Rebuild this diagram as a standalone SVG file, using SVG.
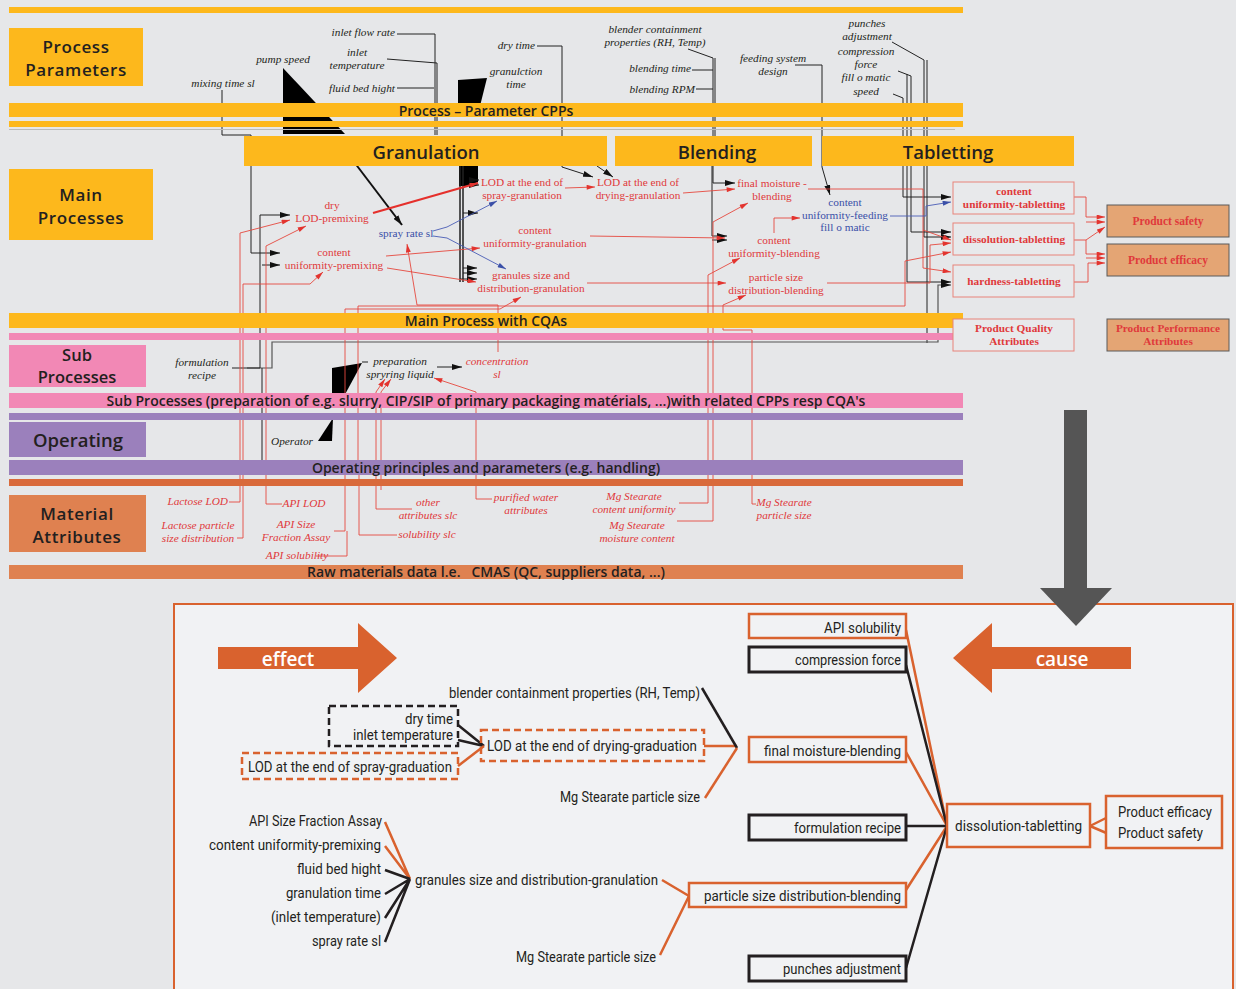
<svg xmlns="http://www.w3.org/2000/svg" width="1236" height="989" viewBox="0 0 1236 989">
<style>
.yb{fill:#fdb81c}.pk{fill:#f288b5}.pu{fill:#9b80bc}.od{fill:#d96a3b}.ma{fill:#df8150}
.hd{font-family:"Open Sans","Liberation Sans",sans-serif;font-weight:600;fill:#231f20;text-anchor:middle}
.it{font-family:"Liberation Serif",serif;font-style:italic;font-size:11.3px;fill:#231f20;text-anchor:middle}
.ri{font-family:"Liberation Serif",serif;font-style:italic;font-size:11.3px;fill:#e0393b;text-anchor:middle}
.rt{font-family:"Liberation Serif",serif;font-size:11.3px;fill:#e0393b;text-anchor:middle}
.bt{font-family:"Liberation Serif",serif;font-size:11.3px;fill:#3b50a8;text-anchor:middle}
.pq{font-family:"Liberation Serif",serif;font-weight:bold;font-size:11.3px;fill:#e0393b;text-anchor:middle}
.bk{fill:none;stroke:#222;stroke-width:1}
.gy{fill:none;stroke:#555;stroke-width:1.2}
.rd{fill:none;stroke:#e5483e;stroke-width:0.9}
.bl{fill:none;stroke:#4a5cb5;stroke-width:0.9}
.qb{fill:#e8e9eb;stroke:#e8837a;stroke-width:1}
.pb{fill:#e4a574;stroke:#5a5a5a;stroke-width:1}
.ct{font-family:Roboto,"Liberation Sans",sans-serif;font-size:14px;fill:#231f20}
.ob{fill:#f1f2f4;stroke:#d9622e;stroke-width:2.5}
.kb{fill:#f1f2f4;stroke:#231f20;stroke-width:3}
.dk{fill:none;stroke:#231f20;stroke-width:2.5;stroke-dasharray:7,4}
.do{fill:none;stroke:#d9622e;stroke-width:2.5;stroke-dasharray:7,4}
.lo{fill:none;stroke:#d9622e;stroke-width:2.5}
.lk{fill:none;stroke:#231f20;stroke-width:2.5}
.bn{font-size:14px}
.cl{font-size:17px;letter-spacing:0.6px}
</style>
<defs>
<marker id="ab" viewBox="0 0 10 6" refX="10" refY="3" markerWidth="10" markerHeight="6" markerUnits="userSpaceOnUse" orient="auto"><path d="M0,0 L10,3 L0,6 z" fill="#111"/></marker>
<marker id="ar" viewBox="0 0 10 6" refX="10" refY="3" markerWidth="9" markerHeight="5" markerUnits="userSpaceOnUse" orient="auto"><path d="M0,0 L10,3 L0,6 z" fill="#e3342f"/></marker>
<marker id="au" viewBox="0 0 10 6" refX="10" refY="3" markerWidth="9" markerHeight="5" markerUnits="userSpaceOnUse" orient="auto"><path d="M0,0 L10,3 L0,6 z" fill="#3b50a8"/></marker>
</defs>
<rect x="0" y="0" width="1236" height="989" fill="#e6e7e9"/>

<g id="connectors">
<path class="bk" d="M222,90 V135 H251 V253 H280" marker-end="url(#ab)"/>
<path class="bk" d="M397,34 H435 V135"/>
<path class="bk" d="M387,59 L437,63 V135"/>
<path class="bk" d="M397,88 H434"/>
<path class="bk" d="M537,46 H562 V167 L593,177" marker-end="url(#ab)"/>
<path class="bk" d="M597,166 L613,177" marker-end="url(#ab)"/>
<path class="bk" d="M688,49 L713,58 V183 H735" marker-end="url(#ab)"/>
<path class="bk" d="M692,70 H713"/>
<path class="bk" d="M696,89 H713"/>
<path class="bk" d="M715,58 V136"/>
<path class="bk" d="M712,166 V236 H727" marker-end="url(#ab)"/>
<path class="bk" d="M712,240 H727" marker-end="url(#ab)"/>
<path class="bk" d="M795,65 H822 V167 L830,195" marker-end="url(#ab)"/>
<path class="bk" d="M892,42 L924,60 V237 H951" marker-end="url(#ab)"/>
<path class="bk" d="M927,60 V343"/>
<path class="bk" d="M898,71 L911,76 V232 H951" marker-end="url(#ab)"/>
<path class="bk" d="M907,74 V282 H951" marker-end="url(#ab)"/>
<path class="bk" d="M893,94 L903,98 V197 H951" marker-end="url(#ab)"/>
<path class="gy" d="M247,368 H272 V342 H938 V285 H951" marker-end="url(#ab)"/>
<path class="bk" d="M232,368 H260 V215 H290" marker-end="url(#ab)"/>
<path class="bk" d="M262,265 H280" marker-end="url(#ab)"/>
<path class="bk" d="M262,368 V460"/>
<polygon points="458,80 487,78 479,110 458,110" fill="#000"/>
<polygon points="459,166 478,166 478,182 470,186 459,186" fill="#000"/>
<path class="bk" d="M470,180 H479" marker-end="url(#ab)"/>
<path class="bk" d="M470,185 H479" marker-end="url(#ab)"/>
<path d="M460,166 V282 M463,166 V282" fill="none" stroke="#222" stroke-width="1.5"/>
<path class="bk" d="M463,213 H478" marker-end="url(#ab)"/>
<path class="bk" d="M463,268 H477" marker-end="url(#ab)"/>
<path class="bk" d="M463,273 H477" marker-end="url(#ab)"/>
<path class="bk" d="M460,279 H477" marker-end="url(#ab)"/>
<polygon points="283,68 330,118 345,134 283,134" fill="#000"/>
<path d="M345,150 L402,225" fill="none" stroke="#111" stroke-width="2" marker-end="url(#ab)"/>
<polygon points="332,368 362,363 342,400 332,400" fill="#000"/>
<polygon points="333,418 318,441 332,441" fill="#000"/>
<path class="bk" d="M362,362 H368"/>
<path class="bk" d="M437,367 H462" marker-end="url(#ab)"/>

<path d="M373,213 L478,183" fill="none" stroke="#e5302c" stroke-width="2.2" marker-end="url(#ar)"/>
<path class="rd" d="M565,188 L595,187" marker-end="url(#ar)"/>
<path class="rd" d="M683,193 L735,189" marker-end="url(#ar)"/>
<path class="rd" d="M386,256 L480,248" marker-end="url(#ar)"/>
<path class="rd" d="M387,268 L476,282" marker-end="url(#ar)"/>
<path class="rd" d="M590,236 L725,238" marker-end="url(#ar)"/>
<path class="rd" d="M587,283 L726,283" marker-end="url(#ar)"/>
<path class="rd" d="M774,233 V218 H800" marker-end="url(#ar)"/>
<path class="rd" d="M808,189 H923 V268 L951,272" marker-end="url(#ar)"/>
<path class="rd" d="M923,230 L951,240" marker-end="url(#ar)"/>
<path class="rd" d="M827,283 H930 V245 L951,243" marker-end="url(#ar)"/>
<path class="rd" d="M358,460 V306 H905 V261 L951,252" marker-end="url(#ar)"/>
<path class="rd" d="M229,502 H240 V233 L290,220" marker-end="url(#ar)"/>
<path class="rd" d="M237,538 H243 V284 H310 L323,272" marker-end="url(#ar)"/>
<path class="rd" d="M282,504 H266 V246 L306,226" marker-end="url(#ar)"/>
<path class="rd" d="M334,531 H345 V309 H500 L521,297" marker-end="url(#ar)"/>
<path class="rd" d="M316,556 H347 V531"/>
<path class="rd" d="M397,535 H359 V460"/>
<path class="rd" d="M412,509 H376 V392 L385,379" marker-end="url(#ar)"/>
<path class="rd" d="M381,490 V392 L391,379" marker-end="url(#ar)"/>
<path class="rd" d="M492,499 H476 V392 L434,378" marker-end="url(#ar)"/>
<path class="rd" d="M498,352 V305 H417 L407,244" marker-end="url(#ar)"/>
<path class="rd" d="M679,503 H708 V275 L740,258" marker-end="url(#ar)"/>
<path class="rd" d="M677,521 H713 V222 L748,203" marker-end="url(#ar)"/>
<path class="rd" d="M756,504 H752 V330 H723 V305 L746,295" marker-end="url(#ar)"/>
<path class="rd" d="M1074,197 H1086 V217 H1105" marker-end="url(#ar)"/>
<path class="rd" d="M1086,222 H1105" marker-end="url(#ar)"/>
<path class="rd" d="M1074,240 H1086 L1105,227" marker-end="url(#ar)"/>
<path class="rd" d="M1086,240 V254 H1105" marker-end="url(#ar)"/>
<path class="rd" d="M1086,258 H1105" marker-end="url(#ar)"/>
<path class="rd" d="M1074,282 H1088 V263 H1105" marker-end="url(#ar)"/>
<path class="bl" d="M433,231 L447,227 L497,201" marker-end="url(#au)"/>
<path class="bl" d="M433,236 L447,238 L506,269" marker-end="url(#au)"/>
<path class="bl" d="M890,216 H926 V206 L951,202" marker-end="url(#au)"/>
</g>

<g id="bands">
<rect class="yb" x="9" y="7" width="954" height="6"/>
<rect class="yb" x="9" y="103" width="954" height="14"/>
<rect class="yb" x="9" y="121" width="954" height="6"/>
<line x1="9" y1="129.5" x2="955" y2="129.5" stroke="#bbb" stroke-width="1"/>
<text class="hd bn" x="486" y="115.5">Process – Parameter CPPs</text>
<rect class="yb" x="9" y="313" width="954" height="15"/>
<text class="hd bn" x="486" y="325.5">Main Process with CQAs</text>
<rect class="pk" x="9" y="333" width="954" height="7"/>
<rect class="pk" x="9" y="393" width="954" height="15"/>
<text class="hd bn" x="486" y="405.5">Sub Processes (preparation of e.g. slurry, CIP/SIP of primary packaging matérials, ...)with related CPPs resp CQA's</text>
<rect class="pu" x="9" y="413" width="954" height="7"/>
<rect class="pu" x="9" y="460" width="954" height="15"/>
<text class="hd bn" x="486" y="472.5">Operating principles and parameters (e.g. handling)</text>
<rect class="od" x="9" y="479" width="954" height="7"/>
<rect class="ma" x="9" y="565" width="954" height="14"/>
<text class="hd bn" x="486" y="577" xml:space="preserve">Raw materials data l.e.   CMAS (QC, suppliers data, ...)</text>
</g>

<g id="category-labels">
<rect class="yb" x="9" y="28" width="134" height="58"/>
<text class="hd cl" x="76" y="53">Process</text>
<text class="hd cl" x="76" y="76">Parameters</text>
<rect class="yb" x="9" y="169" width="144" height="71"/>
<text class="hd cl" x="81" y="201">Main</text>
<text class="hd cl" x="81" y="224">Processes</text>
<rect class="pk" x="9" y="345" width="137" height="42"/>
<text class="hd" x="77" y="361" style="font-size:16.5px">Sub</text>
<text class="hd" x="77" y="383" style="font-size:16.5px">Processes</text>
<rect class="pu" x="9" y="422" width="137" height="35"/>
<text class="hd" x="78" y="447" style="font-size:18.5px">Operating</text>
<rect class="ma" x="9" y="495" width="137" height="57"/>
<text class="hd cl" x="77" y="520">Material</text>
<text class="hd cl" x="77" y="543">Attributes</text>
</g>

<g id="stage-headers">
<rect class="yb" x="244" y="136" width="363" height="30"/>
<text class="hd" x="426" y="159" font-size="18.5">Granulation</text>
<rect class="yb" x="615" y="136" width="197" height="30"/>
<text class="hd" x="717" y="159" font-size="18.5">Blending</text>
<rect class="yb" x="822" y="136" width="252" height="30"/>
<text class="hd" x="948" y="159" font-size="18.5">Tabletting</text>
</g>

<g id="process-parameters">
<text class="it" x="395" y="36" style="text-anchor:end">inlet flow rate</text>
<text class="it" x="357" y="56">inlet</text>
<text class="it" x="357" y="69">temperature</text>
<text class="it" x="283" y="63">pump speed</text>
<text class="it" x="395" y="92" style="text-anchor:end">fluid bed hight</text>
<text class="it" x="223" y="87">mixing time sl</text>
<text class="it" x="535" y="49" style="text-anchor:end">dry time</text>
<text class="it" x="516" y="75">granulction</text>
<text class="it" x="516" y="88">time</text>
<text class="it" x="655" y="33">blender containment</text>
<text class="it" x="655" y="46">properties (RH, Temp)</text>
<text class="it" x="691" y="72" style="text-anchor:end">blending time</text>
<text class="it" x="695" y="93" style="text-anchor:end">blending RPM</text>
<text class="it" x="773" y="62">feeding system</text>
<text class="it" x="773" y="75">design</text>
<text class="it" x="867" y="27">punches</text>
<text class="it" x="867" y="40">adjustment</text>
<text class="it" x="866" y="55">compression</text>
<text class="it" x="866" y="68">force</text>
<text class="it" x="866" y="81">fill o matic</text>
<text class="it" x="866" y="95">speed</text>
</g>

<g id="cqa-nodes">
<text class="rt" x="332" y="209">dry</text>
<text class="rt" x="332" y="222">LOD-premixing</text>
<text class="rt" x="334" y="256">content</text>
<text class="rt" x="334" y="269">uniformity-premixing</text>
<text class="bt" x="406" y="237">spray rate sl</text>
<text class="rt" x="522" y="186">LOD at the end of</text>
<text class="rt" x="522" y="199">spray-granulation</text>
<text class="rt" x="638" y="186">LOD at the end of</text>
<text class="rt" x="638" y="199">drying-granulation</text>
<text class="rt" x="535" y="234">content</text>
<text class="rt" x="535" y="247">uniformity-granulation</text>
<text class="rt" x="531" y="279">granules size and</text>
<text class="rt" x="531" y="292">distribution-granulation</text>
<text class="rt" x="772" y="187">final moisture -</text>
<text class="rt" x="772" y="200">blending</text>
<text class="bt" x="845" y="206">content</text>
<text class="bt" x="845" y="219">uniformity-feeding</text>
<text class="bt" x="845" y="231">fill o matic</text>
<text class="rt" x="774" y="244">content</text>
<text class="rt" x="774" y="257">uniformity-blending</text>
<text class="rt" x="776" y="281">particle size</text>
<text class="rt" x="776" y="294">distribution-blending</text>
</g>

<g id="sub-processes">
<text class="it" x="202" y="366">formulation</text>
<text class="it" x="202" y="379">recipe</text>
<text class="it" x="400" y="365">preparation</text>
<text class="it" x="400" y="378">spryring liquid</text>
<text class="ri" x="497" y="365">concentration</text>
<text class="ri" x="497" y="378">sl</text>
<text class="it" x="292" y="445">Operator</text>
</g>

<g id="material-attributes">
<text class="ri" x="228" y="505" style="text-anchor:end">Lactose LOD</text>
<text class="ri" x="198" y="529">Lactose particle</text>
<text class="ri" x="198" y="542">size distribution</text>
<text class="ri" x="304" y="507">API LOD</text>
<text class="ri" x="296" y="528">API Size</text>
<text class="ri" x="296" y="541">Fraction Assay</text>
<text class="ri" x="297" y="559">API solubility</text>
<text class="ri" x="428" y="506">other</text>
<text class="ri" x="428" y="519">attributes slc</text>
<text class="ri" x="427" y="538">solubility slc</text>
<text class="ri" x="526" y="501">purified water</text>
<text class="ri" x="526" y="514">attributes</text>
<text class="ri" x="634" y="500">Mg Stearate</text>
<text class="ri" x="634" y="513">content uniformity</text>
<text class="ri" x="637" y="529">Mg Stearate</text>
<text class="ri" x="637" y="542">moisture content</text>
<text class="ri" x="784" y="506">Mg Stearate</text>
<text class="ri" x="784" y="519">particle size</text>
</g>

<g id="product-quality">
<rect class="qb" x="953" y="182" width="121" height="32"/>
<text class="pq" x="1014" y="195">content</text>
<text class="pq" x="1014" y="208">uniformity-tabletting</text>
<rect class="qb" x="953" y="223" width="121" height="32"/>
<text class="pq" x="1014" y="243">dissolution-tabletting</text>
<rect class="qb" x="953" y="265" width="121" height="32"/>
<text class="pq" x="1014" y="285">hardness-tabletting</text>
<rect class="qb" x="953" y="319" width="121" height="32"/>
<text class="pq" x="1014" y="332">Product Quality</text>
<text class="pq" x="1014" y="345">Attributes</text>
</g>

<g id="product-performance">
<rect class="pb" x="1107" y="205" width="122" height="32"/>
<text class="pq" x="1168" y="225" style="font-size:11.5px">Product safety</text>
<rect class="pb" x="1107" y="244" width="122" height="32"/>
<text class="pq" x="1168" y="264" style="font-size:11.5px">Product efficacy</text>
<rect class="pb" x="1107" y="319" width="122" height="32"/>
<text class="pq" x="1168" y="332">Product Performance</text>
<text class="pq" x="1168" y="345">Attributes</text>
</g>

<g id="cause-effect-panel">
<rect x="174" y="604" width="1059" height="390" fill="#f1f2f4" stroke="#d9622e" stroke-width="2"/>
</g>

<g id="big-arrow">
<rect x="1064" y="410" width="23" height="180" fill="#555"/>
<polygon points="1040,588 1112,588 1076,626" fill="#555"/>
</g>

<g id="effect-arrow">
<polygon points="218,647 358,647 358,623 397,658 358,693 358,669 218,669" fill="#d9622e"/>
<text class="hd" x="288" y="665.5" font-size="19" style="fill:#fff">effect</text>
</g>
<g id="cause-arrow">
<polygon points="1131,647 992,647 992,623 953,658 992,693 992,669 1131,669" fill="#d9622e"/>
<text class="hd" x="1062" y="665.5" font-size="19" style="fill:#fff">cause</text>
</g>

<g id="panel-connectors">
<path class="lk" d="M458,725 L484,746 M458,740 L484,746"/>
<path class="lo" d="M458,766 L484,746"/>
<path class="lo" d="M704,746 H737"/>
<path class="lk" d="M702,688 L737,748"/>
<path class="lo" d="M705,798 L737,748"/>
<path class="lo" d="M385,822 L410,879 M385,846 L410,879"/>
<path class="lk" d="M385,870 L410,879 M385,894 L410,879 M385,918 L410,879 M385,942 L410,879"/>
<path class="lo" d="M662,880 L689,896 M660,955 L689,896"/>
<path class="lo" d="M906,630 L947,826 M906,752 L947,826 M906,890 L947,826"/>
<path class="lk" d="M906,665 L947,826 M906,826 L947,826 M906,968 L947,826"/>
<path class="lo" d="M1090,826 L1118,812 M1090,826 L1118,838"/>
</g>

<g id="panel-left-nodes">
<rect class="dk" x="329" y="706" width="129" height="40"/>
<text class="ct" x="453" y="724" text-anchor="end" textLength="48" lengthAdjust="spacingAndGlyphs">dry time</text>
<text class="ct" x="453" y="740" text-anchor="end" textLength="100" lengthAdjust="spacingAndGlyphs">inlet temperature</text>
<rect class="do" x="242" y="753" width="216" height="26"/>
<text class="ct" x="248" y="772" textLength="204" lengthAdjust="spacingAndGlyphs">LOD at the end of spray-graduation</text>
<rect class="do" x="481" y="730" width="223" height="31"/>
<text class="ct" x="487" y="751" textLength="210" lengthAdjust="spacingAndGlyphs">LOD at the end of drying-graduation</text>
<text class="ct" x="449" y="698" textLength="251" lengthAdjust="spacingAndGlyphs">blender containment properties (RH, Temp)</text>
<text class="ct" x="560" y="802" textLength="140" lengthAdjust="spacingAndGlyphs">Mg Stearate particle size</text>
<text class="ct" x="249" y="826" textLength="133" lengthAdjust="spacingAndGlyphs">API Size Fraction Assay</text>
<text class="ct" x="209" y="850" textLength="172" lengthAdjust="spacingAndGlyphs">content uniformity-premixing</text>
<text class="ct" x="297" y="874" textLength="84" lengthAdjust="spacingAndGlyphs">fluid bed hight</text>
<text class="ct" x="286" y="898" textLength="95" lengthAdjust="spacingAndGlyphs">granulation time</text>
<text class="ct" x="271" y="922" textLength="110" lengthAdjust="spacingAndGlyphs">(inlet temperature)</text>
<text class="ct" x="312" y="946" textLength="69" lengthAdjust="spacingAndGlyphs">spray rate sl</text>
<text class="ct" x="415" y="885" textLength="243" lengthAdjust="spacingAndGlyphs">granules size and distribution-granulation</text>
<text class="ct" x="516" y="962" textLength="140" lengthAdjust="spacingAndGlyphs">Mg Stearate particle size</text>
</g>

<g id="panel-right-nodes">
<rect class="ob" x="749" y="614" width="157" height="24"/>
<text class="ct" x="824" y="633" textLength="77" lengthAdjust="spacingAndGlyphs">API solubility</text>
<rect class="kb" x="749" y="647" width="157" height="25"/>
<text class="ct" x="795" y="665" textLength="106" lengthAdjust="spacingAndGlyphs">compression force</text>
<rect class="ob" x="749" y="737" width="157" height="25"/>
<text class="ct" x="764" y="756" textLength="137" lengthAdjust="spacingAndGlyphs">final moisture-blending</text>
<rect class="kb" x="749" y="815" width="157" height="25"/>
<text class="ct" x="794" y="833" textLength="107" lengthAdjust="spacingAndGlyphs">formulation recipe</text>
<rect class="ob" x="689" y="883" width="217" height="24"/>
<text class="ct" x="704" y="901" textLength="197" lengthAdjust="spacingAndGlyphs">particle size distribution-blending</text>
<rect class="kb" x="749" y="956" width="157" height="25"/>
<text class="ct" x="783" y="974" textLength="118" lengthAdjust="spacingAndGlyphs">punches adjustment</text>
<rect class="ob" x="947" y="804" width="143" height="43"/>
<text class="ct" x="955" y="831" textLength="127" lengthAdjust="spacingAndGlyphs">dissolution-tabletting</text>
<rect class="ob" x="1106" y="796" width="116" height="52"/>
<text class="ct" x="1118" y="817" textLength="94" lengthAdjust="spacingAndGlyphs">Product efficacy</text>
<text class="ct" x="1118" y="838" textLength="85" lengthAdjust="spacingAndGlyphs">Product safety</text>
</g>
</svg>
